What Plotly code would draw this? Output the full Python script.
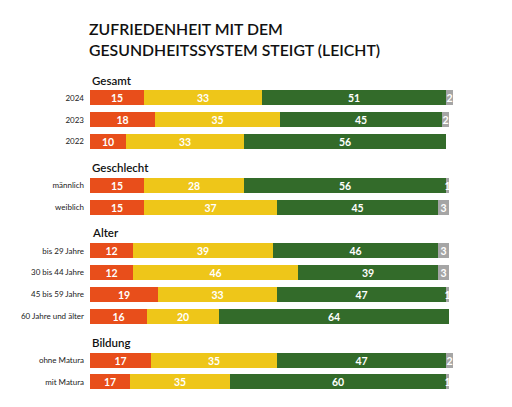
import plotly.graph_objects as go

# rows of the chart, top to bottom
rows = ["2024", "2023", "2022",
        "männlich", "weiblich",
        "bis 29 Jahre", "30 bis 44 Jahre", "45 bis 59 Jahre", "60 Jahre und älter",
        "ohne Matura", "mit Matura"]
groups = ["Gesamt", "Geschlecht", "Alter", "Bildung"]
group_sizes = [3, 2, 4, 2]

# bar lengths as drawn (percent)
unzufrieden = [15, 18, 10, 15, 15, 12, 12, 19, 16, 17, 11]
teils = [33, 35, 33, 28, 37, 39, 46, 33, 20, 35, 28]
zufrieden = [51, 45, 56, 56, 45, 46, 39, 47, 64, 47, 60]
keine_angabe = [2, 2, 0, 1, 3, 3, 3, 1, 0, 2, 1]

# numbers printed on the bars (the source prints 17/35 on "mit Matura")
unzufrieden_txt = ["15", "18", "10", "15", "15", "12", "12", "19", "16", "17", "17"]
teils_txt = ["33", "35", "33", "28", "37", "39", "46", "33", "20", "35", "35"]
zufrieden_txt = ["51", "45", "56", "56", "45", "46", "39", "47", "64", "47", "60"]
keine_txt = ["2", "2", "", "1", "3", "3", "3", "1", "", "2", "1"]

# slot positions: one empty slot before each group after the first
ypos = []
starts = []
slot = 0
for gi, n in enumerate(group_sizes):
    if gi > 0:
        slot += 1
    starts.append(slot)
    for _ in range(n):
        ypos.append(slot)
        slot += 1

series = [
    (unzufrieden, unzufrieden_txt, "#E84E1B"),
    (teils, teils_txt, "#EEC619"),
    (zufrieden, zufrieden_txt, "#336B2A"),
    (keine_angabe, keine_txt, "#A5A5A5"),
]

fig = go.Figure()
for vals, txt, col in series:
    fig.add_trace(go.Bar(
        x=vals, y=ypos, orientation="h", width=0.69,
        marker=dict(color=col, line=dict(width=0)),
        text=txt, textposition="inside", insidetextanchor="middle",
        textangle=0,
        textfont=dict(color="white", size=10.5, family="Lato", weight="bold"),
        constraintext="none", hoverinfo="skip", cliponaxis=False,
    ))

for g, s in zip(groups, starts):
    fig.add_annotation(x=0, y=s - 0.82, xref="x", yref="y", text=g,
                       showarrow=False, xanchor="left", yanchor="middle",
                       font=dict(family="Lato", size=11.5, color="#111",
                                 weight=600))

# the page puts the figure 8px in from the top-left corner
fig.update_layout(
    barmode="stack",
    width=512, height=407,
    margin=dict(l=82, r=35, t=55, b=20, autoexpand=False),
    paper_bgcolor="white", plot_bgcolor="white",
    showlegend=False,
    bargap=0,
    uniformtext=dict(minsize=10, mode="show"),
    title=dict(text="ZUFRIEDENHEIT MIT DEM<br>GESUNDHEITSSYSTEM STEIGT (LEICHT)",
               x=81 / 512, xanchor="left", xref="container",
               y=1 - 27 / 407, yanchor="top", yref="container",
               font=dict(family="Lato", size=15.8, color="#111", weight=600)),
)
fig.update_xaxes(range=[0, 110], visible=False, fixedrange=True,
                 automargin=False)
fig.update_yaxes(range=[13.6, -1.6], tickvals=ypos, ticktext=rows,
                 showgrid=False, zeroline=False, showline=False, ticks="",
                 ticklabelstandoff=5, automargin=False,
                 tickfont=dict(family="Lato", size=8, color="#1a1a1a"))

fig.write_html("out.html")
